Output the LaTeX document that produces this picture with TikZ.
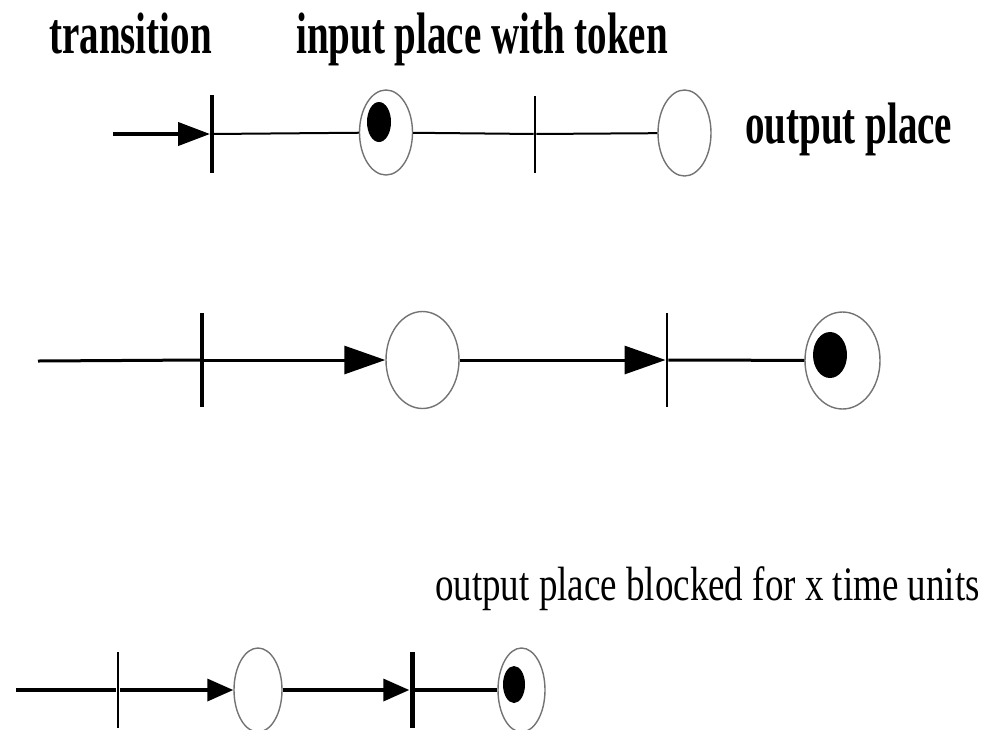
\documentclass[tikz,border=0pt]{standalone}
\usepackage{fontspec}
\setmainfont{Liberation Serif}
\usetikzlibrary{shapes.geometric,arrows.meta}
\tikzset{
  place/.style={ellipse, draw=black!55, line width=1.4pt, inner sep=0pt},
  token/.style={ellipse, fill=black, inner sep=0pt},
  bar/.style={rectangle, fill=black, inner sep=0pt},
  caption/.style={anchor=base west, inner sep=0pt},
  headtip/.style={-{Triangle[length=#1]}},
}
\newcommand{\tallbold}[1]{\scalebox{1}[1.5]{\fontsize{39}{40}\selectfont\bfseries #1}}
\newcommand{\tallreg}[1]{\scalebox{1}[1.3]{\fontsize{37}{38}\selectfont #1}}
\begin{document}
\begin{tikzpicture}[x=1pt,y=-1pt]
\useasboundingbox (0,0) rectangle (1000,729);

% labels
\node[caption] (lt) at (49,53) {\tallbold{transition}};
\node[caption] (li) at (296,53) {\tallbold{input place with token}};
\node[caption] (lo) at (745,143) {\tallbold{output place}};
\node[caption] (lb) at (435,600) {\tallreg{output place blocked for x time units}};

% first net: token waiting in the input place
\coordinate (a0) at (113,134);
\node[bar, minimum width=3.5pt, minimum height=78pt] (t1) at (212,134) {};
\node[place, minimum width=53pt, minimum height=85pt] (p1) at (386,132.5) {};
\node[token, minimum width=24pt, minimum height=40pt] (k1) at (379,122) {};
\node[bar, minimum width=2.5pt, minimum height=77pt] (t2) at (535,134) {};
\node[place, minimum width=53pt, minimum height=86pt] (p2) at (684.5,133) {};
\draw[line width=4pt, -{Triangle[length=32pt,width=23pt]}] (a0) -- (t1);
\draw[line width=2pt] (t1) -- (p1);
\draw[line width=2pt] (p1) -- (t2);
\draw[line width=2pt] (t2) -- (p2);

% second net: token moved to the output place
\coordinate (b0) at (38,361);
\node[bar, minimum width=3.5pt, minimum height=94pt] (t3) at (202,360) {};
\node[place, minimum width=73pt, minimum height=97pt] (p3) at (422.5,360) {};
\node[bar, minimum width=2.5pt, minimum height=94pt] (t4) at (667,360) {};
\node[place, minimum width=75pt, minimum height=97pt] (p4) at (842.5,360.5) {};
\node[token, minimum width=34pt, minimum height=46pt] (k4) at (830,355) {};
\draw[line width=3pt] (b0) -- (t3);
\draw[line width=3pt, -{Triangle[length=41pt,width=28pt]}] (t3) -- (p3);
\draw[line width=3pt, -{Triangle[length=41pt,width=28pt]}] (p3) -- (t4);
\draw[line width=3pt] (t4) -- (p4);

% third net: output place blocked
\coordinate (c0) at (16,690);
\node[bar, minimum width=2.8pt, minimum height=76pt] (t5) at (118,690) {};
\node[place, minimum width=48pt, minimum height=84pt] (p5) at (258,690) {};
\node[bar, minimum width=5pt, minimum height=76pt] (t6) at (412,690) {};
\node[place, minimum width=47pt, minimum height=84pt] (p6) at (521.5,690) {};
\node[token, minimum width=22pt, minimum height=37pt] (k6) at (514,684.5) {};
\draw[line width=3.5pt] (c0) -- (t5);
\draw[line width=3.5pt, -{Triangle[length=26pt,width=22pt]}] (t5) -- (p5);
\draw[line width=3.5pt, -{Triangle[length=26pt,width=22pt]}] (p5) -- (t6);
\draw[line width=3.5pt] (t6) -- (p6);
\end{tikzpicture}
\end{document}
